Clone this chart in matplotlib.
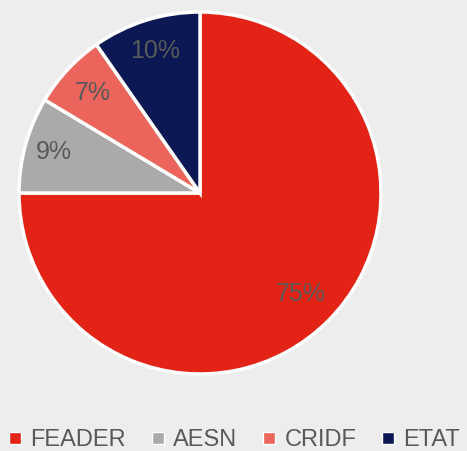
import matplotlib
matplotlib.use('Agg')
import matplotlib.pyplot as plt
from matplotlib.lines import Line2D
import numpy as np

labels = ['FEADER', 'AESN', 'CRIDF', 'ETAT']
values = [75.0, 8.6, 6.7, 9.7]
pct_text = ['75%', '9%', '7%', '10%']
colors = ['#E32315', '#AAAAAA', '#EB655C', '#0B1854']

plt.rcParams['font.family'] = ['Liberation Sans', 'DejaVu Sans']

W, H = 467, 451
fig = plt.figure(figsize=(W / 100, H / 100), dpi=100, facecolor='#EDEDED')

# pie box in pixels: x 19..381, y 12..374
ax = fig.add_axes([19 / W, (H - 374) / H, 362 / W, 362 / H])
ax.set_facecolor('#EDEDED')
wedges, _ = ax.pie(values, colors=colors, startangle=90, counterclock=False,
                   radius=1.0,
                   wedgeprops=dict(edgecolor='white', linewidth=2.5))
ax.set_xlim(-1.0, 1.0)
ax.set_ylim(-1.0, 1.0)
ax.set_aspect('equal')

# percentage labels
dists = [0.79, 0.84, 0.81, 0.82]
for w, txt, d in zip(wedges, pct_text, dists):
    ang = np.deg2rad((w.theta1 + w.theta2) / 2)
    ax.text(d * np.cos(ang), d * np.sin(ang), txt, ha='center', va='center',
            fontsize=18, color='#595959')

handles = [Line2D([0], [0], marker='s', linestyle='none', markersize=9,
                  markerfacecolor=c, markeredgecolor='white', markeredgewidth=1)
           for c in colors]
fig.legend(handles, labels, loc='center', bbox_to_anchor=(0.5, 1 - 440 / H),
           ncol=4, frameon=False, fontsize=17, labelcolor='#595959',
           handlelength=0.7, handletextpad=0.3, columnspacing=1.0,
           borderpad=0)

fig.savefig('out.png', dpi=100, facecolor=fig.get_facecolor())
